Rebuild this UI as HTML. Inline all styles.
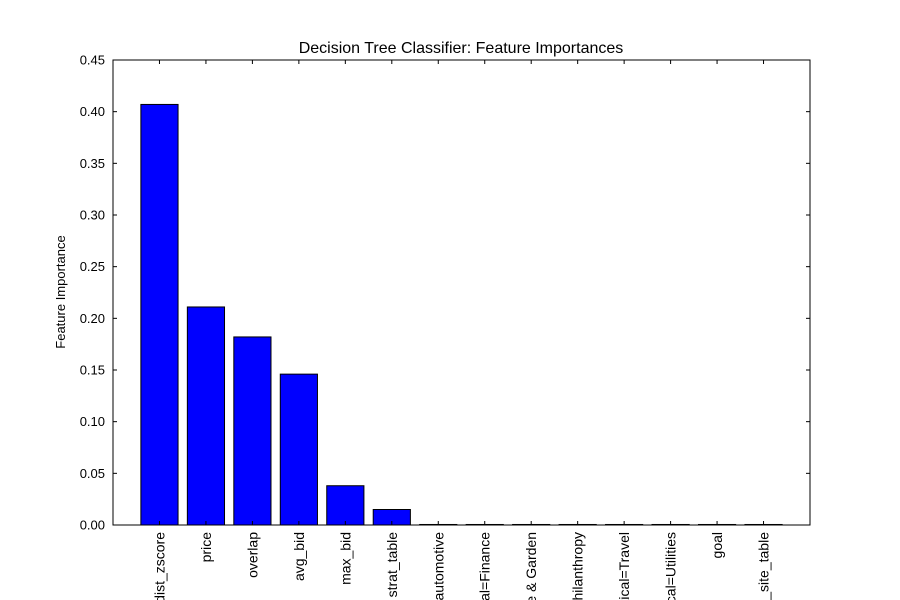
<!DOCTYPE html>
<html><head><meta charset="utf-8"><style>
html,body{margin:0;background:#fff;width:900px;height:600px;overflow:hidden}
svg{display:block;overflow:hidden}
svg text{font-family:"Liberation Sans","DejaVu Sans",sans-serif;fill:#000}
</style></head><body>
<svg id="chart" width="900" height="600" viewBox="0 0 900 600" xmlns="http://www.w3.org/2000/svg">
<defs><clipPath id="frameClip"><rect x="0" y="0" width="900" height="600"/></clipPath></defs>
<rect width="900" height="600" fill="#fff"/>
<text x="461" y="53" font-size="16" text-anchor="middle">Decision Tree Classifier: Feature Importances</text>
<text transform="translate(65,292) rotate(-90)" font-size="13" text-anchor="middle">Feature Importance</text>
<g id="bars"></g>
<g id="ticks"></g>
<g id="xlabels" clip-path="url(#frameClip)"></g>
<rect x="113" y="60" width="697" height="465" fill="none" stroke="#000" stroke-width="1"/>
</svg>
<script>
const categories=["dist_zscore","price","overlap","avg_bid","max_bid","strat_table","vertical=automotive","vertical=Finance","vertical=Home & Garden","vertical=Philanthropy","vertical=Travel","vertical=Utilities","goal","on_site_table"];
const importances=[0.407,0.211,0.182,0.146,0.038,0.015,0.0005,0.0005,0.0005,0.0005,0.0005,0.0005,0.0005,0.0005];
const yTicks=[0,0.05,0.10,0.15,0.20,0.25,0.30,0.35,0.40,0.45];
const yTickLabels=["0.00","0.05","0.10","0.15","0.20","0.25","0.30","0.35","0.40","0.45"];
const L=113,R=810,T=60,B=525,xmin=-1,xmax=14,ymax=0.45;
const NS="http://www.w3.org/2000/svg";
const xs=v=>L+(v-xmin)/(xmax-xmin)*(R-L);
const ys=v=>B-v/ymax*(B-T);
const bars=document.getElementById('bars'),ticks=document.getElementById('ticks'),xl=document.getElementById('xlabels');
function mk(t,a,p){const e=document.createElementNS(NS,t);for(const k in a)e.setAttribute(k,a[k]);p.appendChild(e);return e;}
importances.forEach((v,i)=>{
  const r=mk('rect',{x:xs(i-0.4),y:ys(v),width:xs(i+0.4)-xs(i-0.4),height:B-ys(v),fill:'#0000ff',stroke:'#000','stroke-width':1},bars);
  
  
  const x=xs(i);
  mk('line',{x1:x,x2:x,y1:B,y2:B-4,stroke:'#000'},ticks);
  mk('line',{x1:x,x2:x,y1:T,y2:T+4,stroke:'#000'},ticks);
  const t=mk('text',{transform:`translate(${x+5},532) rotate(-90)`,'font-size':14,'text-anchor':'end'},xl);
  t.textContent=categories[i];
  
  
});
yTicks.forEach((v,i)=>{
  const y=ys(v);
  mk('line',{x1:L,x2:L+4,y1:y,y2:y,stroke:'#000'},ticks);
  mk('line',{x1:R,x2:R-4,y1:y,y2:y,stroke:'#000'},ticks);
  const t=mk('text',{x:L-8,y:y+4.5,'font-size':13,'text-anchor':'end'},ticks);
  t.textContent=yTickLabels[i];
  
  
});
</script>
</body></html>
